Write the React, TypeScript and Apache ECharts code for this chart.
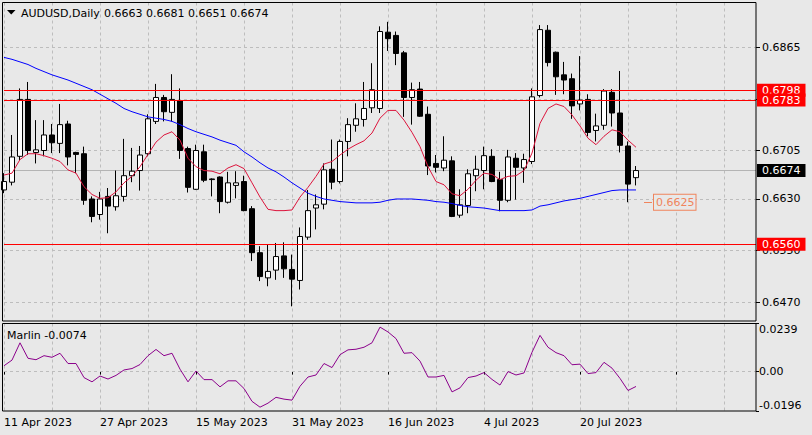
import React, { useEffect, useRef } from "react";
import * as echarts from "echarts";

// ---- categories (trading days) ----
const aprDays = [11, 12, 13, 14, 17, 18, 19, 20, 21, 24, 25, 26, 27, 28];
const mayDays = [1, 2, 3, 4, 5, 8, 9, 10, 11, 12, 15, 16, 17, 18, 19, 22, 23, 24, 25, 26, 29, 30, 31];
const junDays = [1, 2, 5, 6, 7, 8, 9, 12, 13, 14, 15, 16, 19, 20, 21, 22, 23, 26, 27, 28, 29, 30];
const julDays = [3, 4, 5, 6, 7, 10, 11, 12, 13, 14, 17, 18, 19, 20, 21, 24, 25, 26, 27, 28, 31];
const emptySlots = 15;

// ---- candles ----
const opens = [
  0.6644, 0.6656, 0.6696, 0.6784, 0.6702, 0.6705, 0.6729, 0.6716, 0.6746, 0.6702,
  0.6700, 0.6630, 0.6606, 0.6634, 0.6618, 0.6634, 0.6666, 0.6674, 0.6700, 0.6750,
  0.6787, 0.6764, 0.6782, 0.6708, 0.6645, 0.6703, 0.6661, 0.6664, 0.6625, 0.6651,
  0.6657, 0.6615, 0.6547, 0.6508, 0.6520, 0.6542, 0.6521, 0.6504, 0.6571, 0.6616,
  0.6622, 0.6676, 0.6657, 0.6719, 0.6744, 0.6753, 0.6771, 0.6770, 0.6888, 0.6883,
  0.6856, 0.6787, 0.6800, 0.6761, 0.6685, 0.6678, 0.6689, 0.6605, 0.6620, 0.6666,
  0.6674, 0.6696, 0.6660, 0.6628, 0.6693, 0.6678, 0.6688, 0.6790, 0.6891, 0.6857,
  0.6822, 0.6816, 0.6777, 0.6784, 0.6736, 0.6744, 0.6795, 0.6763, 0.6712, 0.6663,
];
const highs = [
  0.6670, 0.6729, 0.6801, 0.6811, 0.6752, 0.6752, 0.6746, 0.6777, 0.6751, 0.6703,
  0.6711, 0.6634, 0.6641, 0.6647, 0.6674, 0.6723, 0.6709, 0.6712, 0.6761, 0.6808,
  0.6791, 0.6823, 0.6801, 0.6711, 0.6714, 0.6714, 0.6662, 0.6665, 0.6672, 0.6673,
  0.6666, 0.6619, 0.6557, 0.6559, 0.6562, 0.6563, 0.6544, 0.6586, 0.6644, 0.6637,
  0.6685, 0.6722, 0.6722, 0.6755, 0.6778, 0.6811, 0.6840, 0.6897, 0.6904, 0.6889,
  0.6859, 0.6810, 0.6811, 0.6773, 0.6698, 0.6727, 0.6696, 0.6645, 0.6676, 0.6697,
  0.6711, 0.6707, 0.6672, 0.6706, 0.6701, 0.6700, 0.6801, 0.6899, 0.6899, 0.6858,
  0.6842, 0.6824, 0.6851, 0.6792, 0.6762, 0.6800, 0.6800, 0.6828, 0.6719, 0.6681,
];
const lows = [
  0.6639, 0.6651, 0.6690, 0.6698, 0.6685, 0.6696, 0.6701, 0.6701, 0.6682, 0.6670,
  0.6621, 0.6594, 0.6598, 0.6577, 0.6612, 0.6626, 0.6656, 0.6643, 0.6696, 0.6746,
  0.6750, 0.6750, 0.6692, 0.6640, 0.6644, 0.6656, 0.6634, 0.6608, 0.6623, 0.6631,
  0.6611, 0.6534, 0.6503, 0.6495, 0.6505, 0.6508, 0.6464, 0.6490, 0.6567, 0.6583,
  0.6614, 0.6645, 0.6654, 0.6696, 0.6734, 0.6742, 0.6763, 0.6763, 0.6859, 0.6837,
  0.6757, 0.6745, 0.6757, 0.6667, 0.6671, 0.6673, 0.6602, 0.6601, 0.6608, 0.6642,
  0.6645, 0.6656, 0.6611, 0.6625, 0.6629, 0.6655, 0.6684, 0.6787, 0.6835, 0.6791,
  0.6792, 0.6754, 0.6767, 0.6727, 0.6719, 0.6737, 0.6742, 0.6702, 0.6625, 0.6651,
];
const closes = [
  0.6657, 0.6695, 0.6784, 0.6705, 0.6706, 0.6729, 0.6717, 0.6745, 0.6695, 0.6699,
  0.6628, 0.6603, 0.6630, 0.6619, 0.6635, 0.6666, 0.6673, 0.6698, 0.6754, 0.6787,
  0.6765, 0.6784, 0.6705, 0.6648, 0.6705, 0.6659, 0.6660, 0.6626, 0.6655, 0.6655,
  0.6612, 0.6547, 0.6510, 0.6518, 0.6541, 0.6522, 0.6506, 0.6572, 0.6612, 0.6621,
  0.6675, 0.6656, 0.6719, 0.6745, 0.6754, 0.6770, 0.6799, 0.6889, 0.6878, 0.6855,
  0.6787, 0.6799, 0.6758, 0.6681, 0.6679, 0.6690, 0.6603, 0.6621, 0.6669, 0.6676,
  0.6697, 0.6657, 0.6628, 0.6695, 0.6679, 0.6691, 0.6788, 0.6892, 0.6841, 0.6819,
  0.6814, 0.6774, 0.6783, 0.6733, 0.6743, 0.6797, 0.6763, 0.6713, 0.6653, 0.6674,
];

// ---- moving averages ----
const fastMA = [
  0.6667, 0.6670, 0.6691, 0.6700, 0.6700, 0.6697, 0.6693, 0.6688, 0.6675, 0.6670,
  0.6649, 0.6637, 0.6631, 0.6632, 0.6641, 0.6655, 0.6665, 0.6680, 0.6699, 0.6718,
  0.6729, 0.6734, 0.6721, 0.6693, 0.6680, 0.6674, 0.6673, 0.6669, 0.6678, 0.6683,
  0.6677, 0.6655, 0.6633, 0.6614, 0.6612, 0.6612, 0.6613, 0.6633, 0.6648, 0.6665,
  0.6684, 0.6688, 0.6698, 0.6707, 0.6714, 0.6720, 0.6732, 0.6755, 0.6767, 0.6767,
  0.6752, 0.6733, 0.6711, 0.6680, 0.6657, 0.6652, 0.6638, 0.6635, 0.6645, 0.6659,
  0.6670, 0.6668, 0.6660, 0.6665, 0.6666, 0.6674, 0.6701, 0.6747, 0.6770, 0.6777,
  0.6773, 0.6760, 0.6743, 0.6724, 0.6714, 0.6727, 0.6737, 0.6734, 0.6721, 0.6710,
];
const slowMA = [
  0.6849, 0.6846, 0.6842, 0.6838, 0.6832, 0.6827, 0.6822, 0.6818, 0.6814, 0.6809,
  0.6804, 0.6799, 0.6792, 0.6785, 0.6778, 0.6770, 0.6765, 0.6761, 0.6757, 0.6755,
  0.6753, 0.6750, 0.6745, 0.6739, 0.6734, 0.6730, 0.6726, 0.6721, 0.6717, 0.6713,
  0.6703, 0.6695, 0.6686, 0.6678, 0.6672, 0.6664, 0.6655, 0.6647, 0.6639, 0.6634,
  0.6630, 0.6628, 0.6626, 0.6625, 0.6624, 0.6624, 0.6624, 0.6625, 0.6628, 0.6630,
  0.6630, 0.6630, 0.6629, 0.6628, 0.6626, 0.6625, 0.6623, 0.6620, 0.6618, 0.6617,
  0.6616, 0.6614, 0.6612, 0.6612, 0.6612, 0.6612, 0.6613, 0.6619, 0.6621, 0.6624,
  0.6627, 0.6629, 0.6631, 0.6634, 0.6637, 0.6640, 0.6643, 0.6644, 0.6644, 0.6644,
];

// ---- Marlin oscillator ----
const marlin = [
  0.0029, 0.0057, 0.0143, 0.0066, 0.0059, 0.0079, 0.0071, 0.0091, 0.0040, 0.0040,
  -0.0030, -0.0051, -0.0022, -0.0037, -0.0019, 0.0008, 0.0015, 0.0035, 0.0079, 0.0110,
  0.0079, 0.0091, 0.0012, -0.0051, 0.0003, -0.0040, -0.0040, -0.0076, -0.0046, -0.0046,
  -0.0084, -0.0148, -0.0177, -0.0157, -0.0128, -0.0137, -0.0142, -0.0073, -0.0027, -0.0017,
  0.0040, 0.0020, 0.0084, 0.0108, 0.0111, 0.0121, 0.0143, 0.0221, 0.0197, 0.0164,
  0.0091, 0.0094, 0.0052, -0.0027, -0.0027, -0.0019, -0.0101, -0.0081, -0.0030, -0.0022,
  -0.0005, -0.0039, -0.0067, 0.0000, -0.0017, -0.0007, 0.0096, 0.0180, 0.0121, 0.0094,
  0.0079, 0.0034, 0.0037, -0.0010, -0.0005, 0.0046, 0.0017, -0.0034, -0.0094, -0.0074,
];

// ---- ticks / levels / texts ----
const priceTicks = [0.647, 0.655, 0.663, 0.6705, 0.6785, 0.6865];
const marlinTicks = [-0.0196, 0, 0.0239];
const levelLines = [0.6798, 0.6783, 0.656];
const lastPrice = 0.6674;
const markedLow = 0.6625;
const markedLowBar = 80;
const symbolTitle = "AUDUSD,Daily";
const headerOHLC = [0.6663, 0.6681, 0.6651, 0.6674];
const marlinTitle = "Marlin";
const marlinLast = -0.0074;

const FONT = '"DejaVu Sans", Verdana, sans-serif';
const BG = "#e8e8e8";
const GRIDC = "#bdbdbd";
const ORANGE = "#f0845c";

const monthLabels = (days: number[], m: string) => days.map((d) => `${d} ${m} 2023`);
const dates = [
  ...monthLabels(aprDays, "Apr"),
  ...monthLabels(mayDays, "May"),
  ...monthLabels(junDays, "Jun"),
  ...monthLabels(julDays, "Jul"),
];
const cats = [...dates, ...Array.from({ length: emptySlots }, (_, k) => `+${k + 1}`)];

function buildOption(): any {
  const candleData = opens.map((o, i) => [o, closes[i], lows[i], highs[i]]);
  const gridDash = { color: GRIDC, type: [3, 3], width: 1 };
  const boxLabel = (text: string, bg: string, fg: string) => ({
    show: true,
    position: "end",
    distance: 1,
    formatter: text,
    backgroundColor: bg,
    color: fg,
    padding: [1, 5, 0, 5],
    lineHeight: 12,
    fontSize: 11,
    fontFamily: FONT,
  });
  const orangeLabel = {
    show: true,
    position: "end",
    distance: 2,
    formatter: markedLow.toFixed(4),
    color: ORANGE,
    borderColor: ORANGE,
    borderWidth: 1,
    backgroundColor: BG,
    padding: [2, 1, 1, 2],
    lineHeight: 12,
    fontSize: 11,
    fontFamily: FONT,
  };

  return {
    animation: false,
    backgroundColor: BG,
    textStyle: { fontFamily: FONT },
    grid: [
      { left: 4, top: 2.5, width: 752, height: 318.5 },
      { left: 4, top: 323.5, width: 752, height: 87.5 },
    ],
    xAxis: [
      {
        type: "category",
        gridIndex: 0,
        data: cats,
        boundaryGap: false,
        axisLine: { show: false },
        axisTick: { show: false },
        axisLabel: { show: false },
        splitLine: { show: true, interval: 5, lineStyle: gridDash },
      },
      {
        type: "category",
        gridIndex: 1,
        data: cats,
        boundaryGap: false,
        axisLine: { show: false },
        axisTick: { show: true, interval: 11, length: 3, lineStyle: { color: "#000" } },
        axisLabel: {
          show: true,
          interval: 11,
          align: "left",
          margin: 6,
          color: "#000",
          fontSize: 11,
          fontFamily: FONT,
          formatter: (v: string, i: number) => (i < dates.length ? v : ""),
        },
        splitLine: { show: true, interval: 5, lineStyle: gridDash },
      },
    ],
    yAxis: [
      {
        type: "value",
        gridIndex: 0,
        position: "right",
        min: 0.64413,
        max: 0.69339,
        axisLine: { show: false },
        axisTick: { show: true, customValues: priceTicks, length: 4, lineStyle: { color: "#000" } },
        axisLabel: {
          customValues: priceTicks,
          formatter: (v: number) => v.toFixed(4),
          color: "#000",
          fontSize: 11,
          fontFamily: FONT,
          margin: 6,
        },
        splitLine: { show: false },
      },
      {
        type: "value",
        gridIndex: 1,
        position: "right",
        min: -0.0196,
        max: 0.0239,
        axisLine: { show: false },
        axisTick: { show: true, customValues: marlinTicks, length: 3, lineStyle: { color: "#000" } },
        axisLabel: {
          customValues: marlinTicks,
          formatter: (v: number) => (v === 0 ? "0.00" : v.toFixed(4)),
          color: "#000",
          fontSize: 11,
          fontFamily: FONT,
          margin: 3,
          verticalAlignMaxLabel: "top",
          verticalAlignMinLabel: "bottom",
        },
        splitLine: { show: false },
      },
    ],
    series: [
      {
        type: "candlestick",
        xAxisIndex: 0,
        yAxisIndex: 0,
        data: candleData,
        barWidth: 5,
        clip: false,
        z: 3,
        itemStyle: {
          color: "#ffffff",
          color0: "#000000",
          borderColor: "#000000",
          borderColor0: "#000000",
          borderColorDoji: "#000000",
          borderWidth: 1,
        },
      },
      {
        type: "line",
        xAxisIndex: 0,
        yAxisIndex: 0,
        data: slowMA,
        symbol: "none",
        z: 4,
        lineStyle: { color: "#0000ff", width: 1 },
        markLine: {
          silent: true,
          z: 1,
          precision: 6,
          symbol: ["none", "none"],
          label: { show: false },
          lineStyle: gridDash,
          data: [
            ...priceTicks.map((v) => ({ yAxis: v })),
            {
              yAxis: lastPrice,
              lineStyle: { color: "#b4b4b4", type: "solid", width: 1 },
              label: boxLabel(lastPrice.toFixed(4), "#000000", "#ffffff"),
            },
          ],
        },
      },
      {
        type: "line",
        xAxisIndex: 0,
        yAxisIndex: 0,
        data: fastMA,
        symbol: "none",
        z: 4,
        lineStyle: { color: "#dc143c", width: 1 },
        markLine: {
          silent: true,
          z: 5,
          precision: 6,
          symbol: ["none", "none"],
          lineStyle: { color: "#ff0000", type: "solid", width: 1 },
          data: [
            ...levelLines.map((v) => ({
              yAxis: v,
              label: boxLabel(v.toFixed(4), "#ff0000", "#ffffff"),
            })),
            [
              {
                coord: [markedLowBar, markedLow],
                lineStyle: { color: ORANGE, type: "solid", width: 1 },
                label: orangeLabel,
              },
              {
                coord: [markedLowBar + 1, markedLow],
                lineStyle: { color: ORANGE, type: "solid", width: 1 },
                label: orangeLabel,
              },
            ],
          ],
        },
      },
      {
        type: "line",
        xAxisIndex: 1,
        yAxisIndex: 1,
        data: marlin,
        symbol: "none",
        z: 4,
        lineStyle: { color: "#8b008b", width: 1 },
        markLine: {
          silent: true,
          z: 1,
          precision: 6,
          symbol: ["none", "none"],
          label: { show: false },
          lineStyle: gridDash,
          data: [{ yAxis: 0 }],
        },
      },
    ],
    graphic: [
      {
        type: "rect",
        z: 20,
        silent: true,
        shape: { x: 2.5, y: 2.5, width: 753.5, height: 318.5 },
        style: { fill: "none", stroke: "#000", lineWidth: 1 },
      },
      {
        type: "rect",
        z: 20,
        silent: true,
        shape: { x: 2.5, y: 323.5, width: 753.5, height: 87.5 },
        style: { fill: "none", stroke: "#000", lineWidth: 1 },
      },
      {
        type: "polygon",
        z: 20,
        silent: true,
        shape: { points: [[7, 10], [15.5, 10], [11.25, 14.5]] },
        style: { fill: "#000" },
      },
      {
        type: "text",
        z: 20,
        silent: true,
        x: 21,
        y: 13,
        style: { text: symbolTitle, font: `11px ${FONT}`, fill: "#000", verticalAlign: "middle" },
      },
      {
        type: "text",
        z: 20,
        silent: true,
        x: 104,
        y: 13,
        style: {
          text: headerOHLC.map((v) => v.toFixed(4)).join(" "),
          font: `11px ${FONT}`,
          fill: "#000",
          verticalAlign: "middle",
        },
      },
      {
        type: "text",
        z: 20,
        silent: true,
        x: 7,
        y: 335,
        style: {
          text: `${marlinTitle} ${marlinLast.toFixed(4)}`,
          font: `11px ${FONT}`,
          fill: "#000",
          verticalAlign: "middle",
        },
      },
    ],
  };
}

export default function App() {
  const ref = useRef<HTMLDivElement>(null);
  useEffect(() => {
    if (!ref.current) return;
    const chart = echarts.init(ref.current, undefined, { renderer: "svg" });
    chart.setOption(buildOption());
    return () => chart.dispose();
  }, []);
  return (
    <div
      ref={ref}
      style={{ position: "absolute", left: 0, top: 0, width: 812, height: 435, background: BG }}
    />
  );
}
